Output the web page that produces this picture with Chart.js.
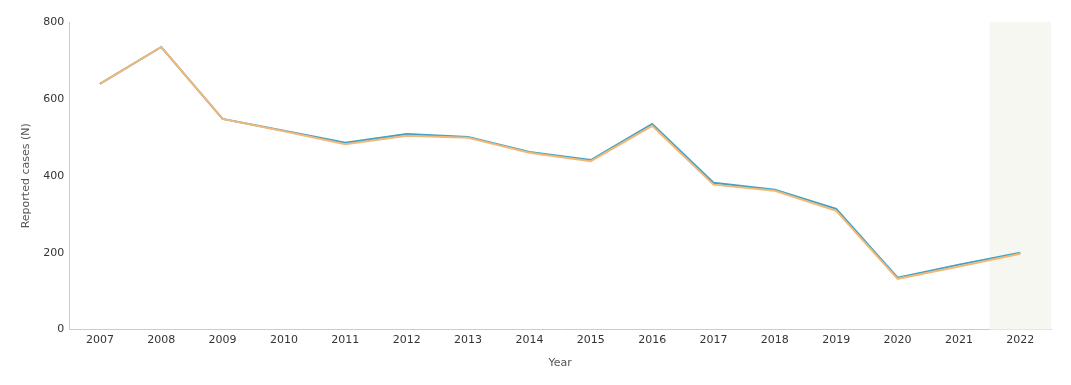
<!DOCTYPE html>
<html>
<head>
<meta charset="utf-8">
<script src="https://cdn.jsdelivr.net/npm/chart.js@4"></script>
<style>
  html, body { margin: 0; padding: 0; background: #fff; }
  #wrap { width: 1071px; height: 385px; position: relative; }
</style>
</head>
<body>
<div id="wrap"><canvas id="casesChart"></canvas></div>
<script>
// 年ごとの報告件数
const years = ["2007", "2008", "2009", "2010", "2011", "2012", "2013", "2014",
  "2015", "2016", "2017", "2018", "2019", "2020", "2021", "2022"];
const seriesBlue = [639, 735, 548, 517, 486, 509, 501, 462, 441, 535, 382, 364, 314, 135, 169, 200];
const seriesOrange = [639, 735, 548, 516, 482, 504, 499, 460, 438, 530, 377, 361, 309, 132, 164, 197];
const yTicks = [0, 200, 400, 600, 800];
const shadedYear = "2022";

// 最終年の背景を塗る
const shadePlugin = {
  id: "shadeYear",
  beforeDatasetsDraw(chart) {
    const { ctx, chartArea, scales } = chart;
    const i = years.indexOf(shadedYear);
    const x0 = scales.x.getPixelForValue(i - 0.5);
    const x1 = Math.min(scales.x.getPixelForValue(i + 0.5), chartArea.right);
    ctx.save();
    ctx.fillStyle = "#f5f7f0";
    ctx.fillRect(x0, chartArea.top, x1 - x0, chartArea.bottom - chartArea.top);
    ctx.restore();
  }
};

const font = { family: "'DejaVu Sans', Verdana, sans-serif", size: 11 };

new Chart(document.getElementById("casesChart").getContext("2d"), {
  type: "line",
  data: {
    labels: years,
    datasets: [
      {
        label: "Orange",
        data: seriesOrange,
        borderColor: "#f3b878",
        borderWidth: 2,
        pointRadius: 0,
        tension: 0,
        order: 1
      },
      {
        label: "Blue",
        data: seriesBlue,
        borderColor: "#40a3c6",
        borderWidth: 2,
        pointRadius: 0,
        tension: 0,
        order: 2
      }
    ]
  },
  plugins: [shadePlugin],
  options: {
    responsive: true,
    maintainAspectRatio: false,
    animation: false,
    layout: { padding: { top: 22, right: 20, bottom: 11, left: 20 } },
    plugins: { legend: { display: false }, tooltip: { enabled: false } },
    scales: {
      x: {
        offset: true,
        grid: { display: false, drawOnChartArea: false, drawTicks: true, tickLength: 4, color: "#dddddd" },
        border: { color: "#cccccc" },
        ticks: { color: "#333", font, padding: 0, maxRotation: 0 },
        title: { display: true, text: "Year", color: "#555", font, padding: { top: 10 } }
      },
      y: {
        min: 0,
        max: 800,
        afterBuildTicks(axis) { axis.ticks = yTicks.map(v => ({ value: v })); },
        grid: { display: false, drawTicks: false },
        border: { color: "#cccccc" },
        ticks: { color: "#333", font, padding: 5 },
        title: { display: true, text: "Reported cases (N)", color: "#555", font, padding: { top: 0, bottom: 5 } }
      }
    }
  }
});
</script>
</body>
</html>
